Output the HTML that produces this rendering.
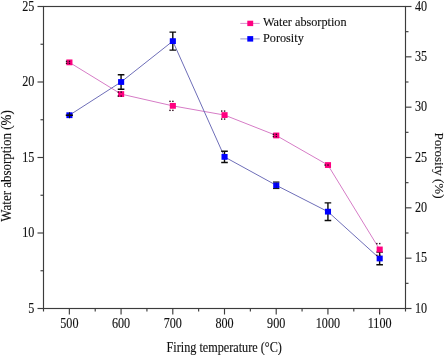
<!DOCTYPE html><html><head><meta charset="utf-8"><style>html,body{margin:0;padding:0;background:#fff;}svg{display:block;will-change:transform;}text{font-family:"Liberation Serif",serif;fill:#111;stroke:#111;stroke-width:0.12px;}</style></head><body>
<svg width="445" height="355" viewBox="0 0 445 355">
<rect x="43.5" y="6.5" width="362.0" height="302.0" fill="none" stroke="#3c3c3c" stroke-width="1.15"/>
<line x1="43.50" y1="308.5" x2="43.50" y2="311.5" stroke="#3c3c3c" stroke-width="1.15"/>
<line x1="69.36" y1="308.5" x2="69.36" y2="314.5" stroke="#3c3c3c" stroke-width="1.15"/>
<text transform="translate(69.36,327.9) scale(0.9,1.09)" font-size="13.5" text-anchor="middle">500</text>
<line x1="95.21" y1="308.5" x2="95.21" y2="311.5" stroke="#3c3c3c" stroke-width="1.15"/>
<line x1="121.07" y1="308.5" x2="121.07" y2="314.5" stroke="#3c3c3c" stroke-width="1.15"/>
<text transform="translate(121.07,327.9) scale(0.9,1.09)" font-size="13.5" text-anchor="middle">600</text>
<line x1="146.93" y1="308.5" x2="146.93" y2="311.5" stroke="#3c3c3c" stroke-width="1.15"/>
<line x1="172.79" y1="308.5" x2="172.79" y2="314.5" stroke="#3c3c3c" stroke-width="1.15"/>
<text transform="translate(172.79,327.9) scale(0.9,1.09)" font-size="13.5" text-anchor="middle">700</text>
<line x1="198.64" y1="308.5" x2="198.64" y2="311.5" stroke="#3c3c3c" stroke-width="1.15"/>
<line x1="224.50" y1="308.5" x2="224.50" y2="314.5" stroke="#3c3c3c" stroke-width="1.15"/>
<text transform="translate(224.50,327.9) scale(0.9,1.09)" font-size="13.5" text-anchor="middle">800</text>
<line x1="250.36" y1="308.5" x2="250.36" y2="311.5" stroke="#3c3c3c" stroke-width="1.15"/>
<line x1="276.21" y1="308.5" x2="276.21" y2="314.5" stroke="#3c3c3c" stroke-width="1.15"/>
<text transform="translate(276.21,327.9) scale(0.9,1.09)" font-size="13.5" text-anchor="middle">900</text>
<line x1="302.07" y1="308.5" x2="302.07" y2="311.5" stroke="#3c3c3c" stroke-width="1.15"/>
<line x1="327.93" y1="308.5" x2="327.93" y2="314.5" stroke="#3c3c3c" stroke-width="1.15"/>
<text transform="translate(327.93,327.9) scale(0.9,1.09)" font-size="13.5" text-anchor="middle">1000</text>
<line x1="353.79" y1="308.5" x2="353.79" y2="311.5" stroke="#3c3c3c" stroke-width="1.15"/>
<line x1="379.64" y1="308.5" x2="379.64" y2="314.5" stroke="#3c3c3c" stroke-width="1.15"/>
<text transform="translate(379.64,327.9) scale(0.9,1.09)" font-size="13.5" text-anchor="middle">1100</text>
<line x1="405.50" y1="308.5" x2="405.50" y2="311.5" stroke="#3c3c3c" stroke-width="1.15"/>
<line x1="43.5" y1="308.50" x2="37.5" y2="308.50" stroke="#3c3c3c" stroke-width="1.15"/>
<text transform="translate(34.3,312.80) scale(0.9,1.09)" font-size="13.5" text-anchor="end">5</text>
<line x1="43.5" y1="270.75" x2="40.5" y2="270.75" stroke="#3c3c3c" stroke-width="1.15"/>
<line x1="43.5" y1="233.00" x2="37.5" y2="233.00" stroke="#3c3c3c" stroke-width="1.15"/>
<text transform="translate(34.3,237.30) scale(0.9,1.09)" font-size="13.5" text-anchor="end">10</text>
<line x1="43.5" y1="195.25" x2="40.5" y2="195.25" stroke="#3c3c3c" stroke-width="1.15"/>
<line x1="43.5" y1="157.50" x2="37.5" y2="157.50" stroke="#3c3c3c" stroke-width="1.15"/>
<text transform="translate(34.3,161.80) scale(0.9,1.09)" font-size="13.5" text-anchor="end">15</text>
<line x1="43.5" y1="119.75" x2="40.5" y2="119.75" stroke="#3c3c3c" stroke-width="1.15"/>
<line x1="43.5" y1="82.00" x2="37.5" y2="82.00" stroke="#3c3c3c" stroke-width="1.15"/>
<text transform="translate(34.3,86.30) scale(0.9,1.09)" font-size="13.5" text-anchor="end">20</text>
<line x1="43.5" y1="44.25" x2="40.5" y2="44.25" stroke="#3c3c3c" stroke-width="1.15"/>
<line x1="43.5" y1="6.50" x2="37.5" y2="6.50" stroke="#3c3c3c" stroke-width="1.15"/>
<text transform="translate(34.3,10.80) scale(0.9,1.09)" font-size="13.5" text-anchor="end">25</text>
<line x1="405.5" y1="308.50" x2="411.5" y2="308.50" stroke="#3c3c3c" stroke-width="1.15"/>
<text transform="translate(415.0,312.80) scale(0.9,1.09)" font-size="13.5">10</text>
<line x1="405.5" y1="283.33" x2="408.5" y2="283.33" stroke="#3c3c3c" stroke-width="1.15"/>
<line x1="405.5" y1="258.17" x2="411.5" y2="258.17" stroke="#3c3c3c" stroke-width="1.15"/>
<text transform="translate(415.0,262.47) scale(0.9,1.09)" font-size="13.5">15</text>
<line x1="405.5" y1="233.00" x2="408.5" y2="233.00" stroke="#3c3c3c" stroke-width="1.15"/>
<line x1="405.5" y1="207.83" x2="411.5" y2="207.83" stroke="#3c3c3c" stroke-width="1.15"/>
<text transform="translate(415.0,212.13) scale(0.9,1.09)" font-size="13.5">20</text>
<line x1="405.5" y1="182.67" x2="408.5" y2="182.67" stroke="#3c3c3c" stroke-width="1.15"/>
<line x1="405.5" y1="157.50" x2="411.5" y2="157.50" stroke="#3c3c3c" stroke-width="1.15"/>
<text transform="translate(415.0,161.80) scale(0.9,1.09)" font-size="13.5">25</text>
<line x1="405.5" y1="132.33" x2="408.5" y2="132.33" stroke="#3c3c3c" stroke-width="1.15"/>
<line x1="405.5" y1="107.17" x2="411.5" y2="107.17" stroke="#3c3c3c" stroke-width="1.15"/>
<text transform="translate(415.0,111.47) scale(0.9,1.09)" font-size="13.5">30</text>
<line x1="405.5" y1="82.00" x2="408.5" y2="82.00" stroke="#3c3c3c" stroke-width="1.15"/>
<line x1="405.5" y1="56.83" x2="411.5" y2="56.83" stroke="#3c3c3c" stroke-width="1.15"/>
<text transform="translate(415.0,61.13) scale(0.9,1.09)" font-size="13.5">35</text>
<line x1="405.5" y1="31.67" x2="408.5" y2="31.67" stroke="#3c3c3c" stroke-width="1.15"/>
<line x1="405.5" y1="6.50" x2="411.5" y2="6.50" stroke="#3c3c3c" stroke-width="1.15"/>
<text transform="translate(415.0,10.80) scale(0.9,1.09)" font-size="13.5">40</text>
<polyline points="69.36,62.37 121.07,94.08 172.79,105.86 224.50,115.07 276.21,135.45 327.93,165.05 379.64,249.46" fill="none" stroke="#d67cc6" stroke-width="1"/>
<polyline points="69.36,115.22 121.07,82.00 172.79,41.13 224.50,156.90 276.21,185.28 327.93,211.66 379.64,258.47" fill="none" stroke="#6e6eb8" stroke-width="1"/>
<path d="M121.07,74.70V89.30M117.77,74.70H124.37M117.77,89.30H124.37" stroke="#0a0a0a" stroke-width="1.4" fill="none"/>
<path d="M172.79,32.13V50.13M169.49,32.13H176.09M169.49,50.13H176.09" stroke="#0a0a0a" stroke-width="1.4" fill="none"/>
<path d="M224.50,151.30V162.50M221.20,151.30H227.80M221.20,162.50H227.80" stroke="#0a0a0a" stroke-width="1.4" fill="none"/>
<path d="M327.93,202.86V220.46M324.63,202.86H331.23M324.63,220.46H331.23" stroke="#0a0a0a" stroke-width="1.4" fill="none"/>
<path d="M379.64,252.17V264.77M376.34,252.17H382.94M376.34,264.77H382.94" stroke="#0a0a0a" stroke-width="1.4" fill="none"/>
<rect x="66.36" y="59.47" width="6.1" height="5.8" fill="#ff0080"/>
<rect x="118.07" y="91.18" width="6.1" height="5.8" fill="#ff0080"/>
<rect x="169.79" y="102.96" width="6.1" height="5.8" fill="#ff0080"/>
<rect x="221.50" y="112.17" width="6.1" height="5.8" fill="#ff0080"/>
<rect x="273.21" y="132.55" width="6.1" height="5.8" fill="#ff0080"/>
<rect x="324.93" y="162.15" width="6.1" height="5.8" fill="#ff0080"/>
<rect x="376.64" y="246.56" width="6.1" height="5.8" fill="#ff0080"/>
<rect x="66.36" y="112.32" width="6.1" height="5.8" fill="#0000ff"/>
<rect x="118.07" y="79.10" width="6.1" height="5.8" fill="#0000ff"/>
<rect x="169.79" y="38.23" width="6.1" height="5.8" fill="#0000ff"/>
<rect x="221.50" y="154.00" width="6.1" height="5.8" fill="#0000ff"/>
<rect x="273.21" y="182.38" width="6.1" height="5.8" fill="#0000ff"/>
<rect x="324.93" y="208.76" width="6.1" height="5.8" fill="#0000ff"/>
<rect x="376.64" y="255.57" width="6.1" height="5.8" fill="#0000ff"/>
<rect x="65.86" y="60.67" width="1.4" height="1.4" fill="#2a0a1a"/>
<rect x="68.76" y="60.67" width="1.4" height="1.4" fill="#2a0a1a"/>
<rect x="65.86" y="62.67" width="1.4" height="1.4" fill="#2a0a1a"/>
<rect x="68.76" y="62.67" width="1.4" height="1.4" fill="#2a0a1a"/>
<rect x="117.57" y="91.38" width="1.4" height="1.4" fill="#2a0a1a"/>
<rect x="120.47" y="91.38" width="1.4" height="1.4" fill="#2a0a1a"/>
<rect x="117.57" y="95.38" width="1.4" height="1.4" fill="#2a0a1a"/>
<rect x="120.47" y="95.38" width="1.4" height="1.4" fill="#2a0a1a"/>
<rect x="169.29" y="100.66" width="1.4" height="1.4" fill="#2a0a1a"/>
<rect x="172.19" y="100.66" width="1.4" height="1.4" fill="#2a0a1a"/>
<rect x="169.29" y="109.66" width="1.4" height="1.4" fill="#2a0a1a"/>
<rect x="172.19" y="109.66" width="1.4" height="1.4" fill="#2a0a1a"/>
<rect x="221.00" y="110.37" width="1.4" height="1.4" fill="#2a0a1a"/>
<rect x="223.90" y="110.37" width="1.4" height="1.4" fill="#2a0a1a"/>
<rect x="221.00" y="118.37" width="1.4" height="1.4" fill="#2a0a1a"/>
<rect x="223.90" y="118.37" width="1.4" height="1.4" fill="#2a0a1a"/>
<rect x="272.71" y="133.65" width="1.4" height="1.4" fill="#2a0a1a"/>
<rect x="275.61" y="133.65" width="1.4" height="1.4" fill="#2a0a1a"/>
<rect x="272.71" y="135.85" width="1.4" height="1.4" fill="#2a0a1a"/>
<rect x="275.61" y="135.85" width="1.4" height="1.4" fill="#2a0a1a"/>
<rect x="324.43" y="164.35" width="1.4" height="1.4" fill="#2a0a1a"/>
<rect x="327.33" y="164.35" width="1.4" height="1.4" fill="#2a0a1a"/>
<rect x="376.14" y="242.91" width="1.4" height="1.4" fill="#2a0a1a"/>
<rect x="379.04" y="242.91" width="1.4" height="1.4" fill="#2a0a1a"/>
<rect x="376.14" y="254.61" width="1.4" height="1.4" fill="#2a0a1a"/>
<rect x="379.04" y="254.61" width="1.4" height="1.4" fill="#2a0a1a"/>
<path d="M65.76,115.22H72.96" stroke="#0a0a0a" stroke-width="1.6"/>
<path d="M69.56,112.22V118.22" stroke="#0a0a0a" stroke-width="1"/>
<path d="M273.01,181.98H279.41M273.01,188.58H279.41" stroke="#0a0a0a" stroke-width="1"/>
<path d="M276.31,182.28V188.28" stroke="#000080" stroke-width="0.8" opacity="0.6"/>
<line x1="240.3" y1="23.4" x2="259.7" y2="23.4" stroke="#dc8ed0" stroke-width="1"/>
<rect x="247.3" y="20.7" width="5.9" height="5.4" fill="#ff0080"/>
<line x1="240.3" y1="38.9" x2="259.7" y2="38.9" stroke="#9494c4" stroke-width="1"/>
<rect x="247.3" y="36.1" width="5.9" height="5.5" fill="#0000ff"/>
<text transform="translate(263,26.2) scale(1.02,1.1)" font-size="12">Water absorption</text>
<text transform="translate(263,41.8) scale(1.02,1.1)" font-size="12">Porosity</text>
<text transform="translate(224.2,351.6) scale(0.905,1.09)" font-size="13.5" text-anchor="middle">Firing temperature (°C)</text>
<text transform="translate(10.5,166) rotate(-90) scale(1,1.09)" font-size="13" text-anchor="middle">Water absorption (%)</text>
<text transform="translate(435,165.5) rotate(90) scale(1,1.0)" font-size="13" text-anchor="middle">Porosity (%)</text>
</svg></body></html>
